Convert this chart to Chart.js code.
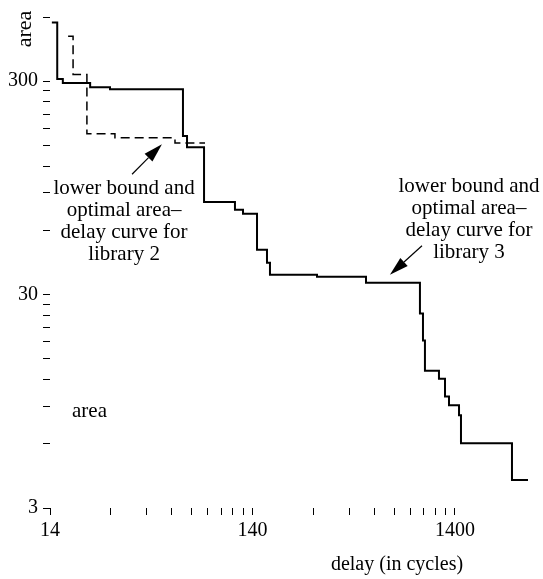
<!DOCTYPE html>
<html>
<head>
<meta charset="utf-8">
<script src="https://cdn.jsdelivr.net/npm/chart.js@4/dist/chart.umd.min.js"></script>
<style>
  html, body { margin: 0; padding: 0; background: #fff; }
  #wrap { width: 543px; height: 579px; position: relative; }
</style>
</head>
<body>
<div id="wrap"><canvas id="c"></canvas></div>
<script>
// ---- data ----
const delays3 = [14.3, 15.2, 16.2, 22.1, 27.7, 63.5, 66.5, 80.7, 114.7, 125.7, 147.4, 165.1, 170.8, 291.6, 509, 940, 973, 995, 1167, 1250, 1308, 1466, 1499, 2677, 3212];
const areas3  = [566, 307, 294, 281, 275, 166, 147, 81.6, 74.9, 71.7, 48.7, 42.3, 37.2, 36.4, 34.1, 24.5, 18.3, 13.2, 12.1, 10.0, 9.09, 8.16, 6.04, 4.06, 4.06];
const delays2 = [17.2, 18.2, 21.3, 29.3, 58.0, 81.6];
const areas2  = [487, 323, 170, 163, 154, 154];
const xTicks = [14, 28, 42, 56, 70, 84, 98, 112, 126, 140, 280, 420, 560, 700, 840, 980, 1120, 1260, 1400];
const yTicks = [3, 6, 9, 12, 15, 18, 21, 24, 27, 30, 60, 90, 120, 150, 180, 210, 240, 270, 300, 600];
const xLabels = [14, 140, 1400];
const yLabels = [3, 30, 300];
const annText2 = ['lower bound and', 'optimal area\u2013', 'delay curve for', 'library 2'];
const annText3 = ['lower bound and', 'optimal area\u2013', 'delay curve for', 'library 3'];

const FONT = '"Liberation Serif", "DejaVu Serif", serif';

const annotPlugin = {
  id: 'annot',
  afterDraw(chart) {
    const { ctx, scales: { x, y } } = chart;
    ctx.save();
    ctx.fillStyle = '#000';
    ctx.strokeStyle = '#000';
    // annotation text blocks
    ctx.font = '21px ' + FONT;
    ctx.textAlign = 'center';
    ctx.textBaseline = 'middle';
    const block = (lines, cx, cy) => {
      lines.forEach((t, i) => ctx.fillText(t, cx, cy + i * 22));
    };
    block(annText2, x.getPixelForValue(32.5), y.getPixelForValue(94));
    block(annText3, x.getPixelForValue(1642), y.getPixelForValue(96));
    // arrows
    const arrow = (x1, y1, x2, y2) => {
      const ang = Math.atan2(y2 - y1, x2 - x1);
      const hl = 19, hw = 5.5;
      const bx = x2 - hl * Math.cos(ang), by = y2 - hl * Math.sin(ang);
      ctx.lineWidth = 1.2;
      ctx.beginPath(); ctx.moveTo(x1, y1); ctx.lineTo(bx, by); ctx.stroke();
      ctx.beginPath();
      ctx.moveTo(x2, y2);
      ctx.lineTo(bx + hw * Math.sin(ang), by - hw * Math.cos(ang));
      ctx.lineTo(bx - hw * Math.sin(ang), by + hw * Math.cos(ang));
      ctx.closePath(); ctx.fill();
    };
    arrow(x.getPixelForValue(35.6), y.getPixelForValue(110), x.getPixelForValue(50), y.getPixelForValue(152));
    arrow(x.getPixelForValue(962), y.getPixelForValue(50.8), x.getPixelForValue(668), y.getPixelForValue(37.2));
    // stray "area" label inside plot
    ctx.font = '21px ' + FONT;
    ctx.textAlign = 'left';
    ctx.fillText('area', 72, 411);
    // y axis title (rotated, top-left)
    ctx.save();
    ctx.translate(31, 29);
    ctx.rotate(-Math.PI / 2);
    ctx.font = '22px ' + FONT;
    ctx.textAlign = 'center';
    ctx.textBaseline = 'alphabetic';
    ctx.fillText('area', 0, 0);
    ctx.restore();
    // x axis title
    ctx.font = '20px ' + FONT;
    ctx.textAlign = 'center';
    ctx.textBaseline = 'middle';
    ctx.fillText('delay (in cycles)', 397, 565);
    ctx.restore();
  }
};

new Chart(document.getElementById('c'), {
  type: 'line',
  data: {
    datasets: [
      {
        data: delays3.map((d, i) => ({ x: d, y: areas3[i] })),
        borderColor: '#000', borderWidth: 2, pointRadius: 0,
        stepped: 'before', fill: false
      },
      {
        data: delays2.map((d, i) => ({ x: d, y: areas2[i] })),
        borderColor: '#000', borderWidth: 1.5, borderDash: [9, 5], pointRadius: 0,
        stepped: 'before', fill: false
      }
    ]
  },
  options: {
    responsive: true,
    maintainAspectRatio: false,
    animation: false,
    layout: { padding: { top: 16, right: 10, bottom: 0, left: 0 } },
    plugins: { legend: { display: false }, tooltip: { enabled: false } },
    scales: {
      x: {
        type: 'logarithmic',
        min: 14, max: 3400,
        afterBuildTicks: s => { s.ticks = xTicks.map(v => ({ value: v })); },
        afterFit: s => { s.height = 71; },
        grid: { display: true, drawOnChartArea: false, drawTicks: true, tickLength: 7, color: '#000', lineWidth: 1 },
        border: { display: false },
        ticks: {
          autoSkip: false, maxRotation: 0, padding: 4, color: '#000',
          font: { family: FONT, size: 20 },
          callback: v => xLabels.includes(v) ? String(v) : ''
        }
      },
      y: {
        type: 'logarithmic',
        min: 3, max: 600,
        afterBuildTicks: s => { s.ticks = yTicks.map(v => ({ value: v })); },
        afterFit: s => { s.width = 50; },
        grid: { display: true, drawOnChartArea: false, drawTicks: true, tickLength: 7, color: '#000', lineWidth: 1 },
        border: { display: false },
        ticks: {
          autoSkip: false, padding: 5, color: '#000',
          font: { family: FONT, size: 20 },
          callback: v => yLabels.includes(v) ? String(v) : ''
        }
      }
    }
  },
  plugins: [annotPlugin]
});
</script>
</body>
</html>
